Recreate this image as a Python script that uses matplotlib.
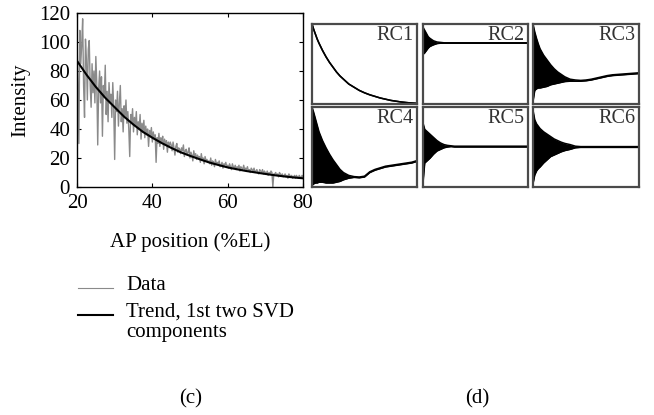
import numpy as np
import matplotlib
matplotlib.use('Agg')
from matplotlib import pyplot as plt
from matplotlib.lines import Line2D

plt.rcParams['font.family'] = ['Liberation Serif', 'DejaVu Serif']
plt.rcParams['font.size'] = 15

# (c) raw intensity profile, one sample every 0.25 %EL from 20 to 80
ap_pos = np.linspace(20, 80, 241)
intensity = [
	# 20 - 24.75
	100, 72, 30, 108, 85, 98, 116, 70, 48, 102, 88, 60, 95, 101, 70, 55, 85, 65, 80, 58,
	# 25 - 29.75
	90, 72, 29, 68, 80, 58, 76, 35, 70, 62, 84, 50, 66, 45, 72, 58, 64, 48, 72, 55,
	# 30 - 34.75
	19, 60, 52, 66, 42, 58, 70, 45, 54, 38, 56, 48, 60, 44, 52, 40, 21, 50, 44, 54,
	# 35 - 39.75
	38, 48, 42, 52, 36, 45, 40, 50, 33, 44, 38, 46, 34, 42, 36, 40, 28, 39, 35, 41,
	# 40 - 44.75
	31, 38, 33, 36, 17, 34, 30, 37, 28, 34, 31, 35, 26, 33, 29, 32, 24, 31, 28, 31,
	# 45 - 49.75
	29, 25, 31, 27, 22, 28, 30, 24, 27, 26, 23, 27, 25, 29, 21, 25, 26, 22, 24, 27,
	# 50 - 54.75
	20, 24, 22, 18, 25, 21, 23, 19, 22, 20, 21, 17, 23, 19, 20, 16, 21, 18, 19, 17,
	# 55 - 59.75
	18, 16, 20, 15, 18, 17, 14, 19, 16, 17, 16, 18, 14, 15, 17, 13, 16, 15, 17, 14,
	# 60 - 64.75
	15, 13, 16, 14, 12, 16, 14, 13, 15, 12, 14, 13, 15, 11, 14, 13, 12, 15, 12, 13,
	# 65 - 69.75
	12, 14, 11, 12, 10, 13, 12, 11, 13, 10, 11, 12, 10, 9, 12, 11, 10, 12, 9, 11,
	# 70 - 74.75
	10, 9, 11, 8, 10, 9, 11, 10, 0, 9, 9, 10, 8, 9, 7, 10, 9, 8, 9, 7,
	# 75 - 80
	8, 9, 7, 8, 6, 9, 8, 7, 8, 6, 7, 8, 6, 8, 7, 6, 8, 7, 6, 8, 7,
]

# trend from the first two SVD components
trend_pos = [20, 22.5, 25, 27.5, 30, 32.5, 35, 37.5, 40, 42.5, 45, 47.5, 50,
			 52.5, 55, 57.5, 60, 62.5, 65, 67.5, 70, 72.5, 75, 77.5, 80]
trend = [87, 77.5, 69, 61.5, 55, 48.5, 43, 38, 34, 30.3, 27, 24, 21.5,
		 19.2, 17, 15.2, 13.5, 12.2, 11, 10, 9, 8.1, 7.3, 6.6, 6]

# (d) reconstructed components, upper / lower envelope (fraction of panel height)
rc_pos = [20, 21, 22, 23, 24, 26, 28, 30, 32, 34, 36, 38, 41, 44, 47, 50,
		  53, 56, 59, 62, 65, 68, 71, 74, 77, 80]
rc_hi = {
	'RC1': [1.0, 0.93, 0.87, 0.81, 0.76, 0.67, 0.59, 0.52, 0.46, 0.40, 0.35, 0.31,
			0.25, 0.21, 0.17, 0.14, 0.115, 0.095, 0.075, 0.06, 0.045, 0.035, 0.025,
			0.018, 0.012, 0.008],
	'RC2': [0.96, 0.92, 0.88, 0.84, 0.82, 0.79, 0.775, 0.77, 0.765, 0.765, 0.765, 0.765,
			0.765, 0.765, 0.765, 0.765, 0.765, 0.765, 0.765, 0.765, 0.765, 0.765, 0.765,
			0.765, 0.765, 0.765],
	'RC3': [1.0, 0.90, 0.82, 0.75, 0.69, 0.61, 0.55, 0.49, 0.44, 0.40, 0.37, 0.34,
			0.31, 0.30, 0.295, 0.30, 0.31, 0.325, 0.34, 0.355, 0.365, 0.37, 0.375,
			0.38, 0.385, 0.39],
	'RC4': [1.0, 0.93, 0.85, 0.77, 0.69, 0.58, 0.49, 0.41, 0.34, 0.28, 0.22, 0.18,
			0.145, 0.13, 0.125, 0.135, 0.19, 0.22, 0.24, 0.26, 0.27, 0.28, 0.29, 0.30,
			0.31, 0.33],
	'RC5': [0.80, 0.72, 0.70, 0.68, 0.66, 0.62, 0.58, 0.55, 0.53, 0.52, 0.515, 0.51,
			0.51, 0.51, 0.51, 0.51, 0.51, 0.51, 0.51, 0.51, 0.51, 0.51, 0.51, 0.51,
			0.51, 0.51],
	'RC6': [0.96, 0.84, 0.79, 0.76, 0.73, 0.69, 0.66, 0.63, 0.60, 0.58, 0.56, 0.545,
			0.53, 0.51, 0.505, 0.505, 0.505, 0.505, 0.505, 0.505, 0.505, 0.505, 0.505,
			0.505, 0.505, 0.505],
}
rc_lo = {
	'RC1': rc_hi['RC1'],
	'RC2': [0.62, 0.64, 0.67, 0.70, 0.72, 0.74, 0.755, 0.76, 0.76, 0.76, 0.76, 0.76,
			0.76, 0.76, 0.76, 0.76, 0.76, 0.76, 0.76, 0.76, 0.76, 0.76, 0.76,
			0.76, 0.76, 0.76],
	'RC3': [0.03, 0.17, 0.19, 0.20, 0.20, 0.21, 0.22, 0.24, 0.25, 0.26, 0.27, 0.28,
			0.285, 0.285, 0.285, 0.29, 0.30, 0.315, 0.33, 0.345, 0.355, 0.36, 0.365,
			0.37, 0.375, 0.38],
	'RC4': [0.02, 0.04, 0.05, 0.05, 0.06, 0.06, 0.05, 0.05, 0.05, 0.06, 0.07, 0.09,
			0.11, 0.12, 0.115, 0.125, 0.18, 0.21, 0.23, 0.25, 0.26, 0.27, 0.28, 0.29,
			0.30, 0.32],
	'RC5': [0.05, 0.30, 0.32, 0.34, 0.36, 0.41, 0.45, 0.47, 0.49, 0.50, 0.505, 0.50,
			0.50, 0.50, 0.50, 0.50, 0.50, 0.50, 0.50, 0.50, 0.50, 0.50, 0.50, 0.50,
			0.50, 0.50],
	'RC6': [0.04, 0.15, 0.20, 0.23, 0.25, 0.30, 0.34, 0.38, 0.40, 0.42, 0.44, 0.455,
			0.47, 0.49, 0.495, 0.495, 0.495, 0.495, 0.495, 0.495, 0.495, 0.495, 0.495,
			0.495, 0.495, 0.495],
}
rc_names = ['RC1', 'RC2', 'RC3', 'RC4', 'RC5', 'RC6']

W, H = 654, 415
fig = plt.figure(figsize=(W / 100, H / 100), dpi=100)

def frac_rect(x0, y0, x1, y1):
	# pixel box (top-left origin) -> figure fractions
	return [x0 / W, 1 - y1 / H, (x1 - x0) / W, (y1 - y0) / H]

# --- panel (c)
ax = fig.add_axes(frac_rect(77, 13, 303, 187))
ax.plot(ap_pos, intensity, color='#8a8a8a', lw=1.0)
ax.plot(trend_pos, trend, color='black', lw=1.5)
ax.set_xlim(20, 80)
ax.set_ylim(0, 120)
ax.set_xticks([20, 40, 60, 80])
ax.set_yticks([0, 20, 40, 60, 80, 100, 120])
ax.tick_params(direction='in', length=3, width=0.8, top=True, right=True, pad=5)
for sp in ax.spines.values():
	sp.set_linewidth(1.0)
ax.set_ylabel('Intensity', labelpad=6)
ax.set_xlabel('AP position (%EL)', labelpad=14)

# legend drawn by hand so the handle sits at the first text line
leg = [('Data', '#8a8a8a', 0.8, 288), ('Trend, 1st two SVD\ncomponents', 'black', 1.5, 315)]
for label, col, lw, ypx in leg:
	fig.add_artist(Line2D([78 / W, 113 / W], [1 - ypx / H, 1 - ypx / H], color=col, lw=lw))
	fig.text(126 / W, 1 - (ypx - 12) / H, label, ha='left', va='top', linespacing=1.05)

fig.text(191 / W, 1 - 399 / H, '(c)', ha='center', va='center')
fig.text(477 / W, 1 - 399 / H, '(d)', ha='center', va='center')

# --- panel (d)
cols = [(312, 417), (423, 528), (533, 639)]
rows = [(24, 104), (107, 187)]
for i, name in enumerate(rc_names):
	x0, x1 = cols[i % 3]
	y0, y1 = rows[i // 3]
	rax = fig.add_axes(frac_rect(x0, y0, x1, y1))
	rax.fill_between(rc_pos, rc_lo[name], rc_hi[name], color='black', lw=0)
	rax.plot(rc_pos, rc_hi[name], color='black', lw=1.1)
	rax.plot(rc_pos, rc_lo[name], color='black', lw=1.1)
	rax.set_xlim(20, 80)
	rax.set_ylim(0, 1)
	rax.set_xticks([])
	rax.set_yticks([])
	for sp in rax.spines.values():
		sp.set_linewidth(1.6)
		sp.set_color('#4a4a4a')
	rax.text(0.97, 0.97, name, transform=rax.transAxes, ha='right', va='top',
			 color='#333333', fontsize=14.5)

plt.savefig('out.png', dpi=100)
